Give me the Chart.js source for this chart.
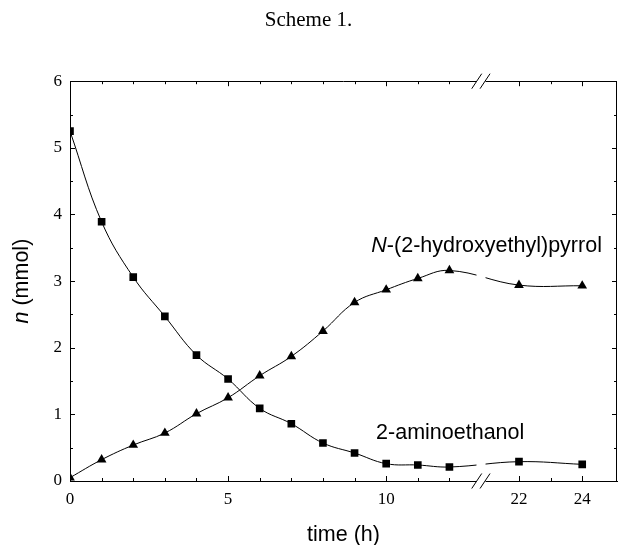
<!DOCTYPE html>
<html>
<head>
<meta charset="utf-8">
<title>Scheme 1.</title>
<script src="https://cdn.jsdelivr.net/npm/chart.js@4/dist/chart.umd.min.js"></script>
<style>
  html, body { margin: 0; padding: 0; background: #fff; }
  #wrap { width: 618px; height: 545px; }
</style>
</head>
<body>
<div id="wrap"><canvas id="chart" width="618" height="545"></canvas></div>
<script>
// reaction time (h) and amounts (mmol)
const times = [0, 1, 2, 3, 4, 5, 6, 7, 8, 9, 10, 11, 12, 22, 24];
const aminoethanol = [5.25, 3.89, 3.06, 2.47, 1.89, 1.53, 1.09, 0.86, 0.57, 0.42, 0.26, 0.24, 0.21, 0.29, 0.25];
const pyrrol = [0.05, 0.32, 0.54, 0.72, 1.01, 1.25, 1.58, 1.87, 2.25, 2.68, 2.87, 3.04, 3.16, 2.94, 2.93];

const xTickLabels = [0, 5, 10, 22, 24];
const xMinorTicks = [1, 2, 3, 4, 6, 7, 8, 9, 11, 12, 23];
const yTickLabels = [0, 1, 2, 3, 4, 5, 6];
const yMinorTicks = [0.5, 1.5, 2.5, 3.5, 4.5, 5.5];

// the time axis is broken between these two values
const BREAK_FROM = 13;
const BREAK_TO = 20.8;
function axisX(t) {
  return t > BREAK_FROM ? t - (BREAK_TO - BREAK_FROM) : t;
}

const SANS = "'Liberation Sans', Arial, sans-serif";
const SERIF = "'Liberation Serif', 'Times New Roman', serif";

const toPoints = (values) => times.map((t, i) => ({ x: axisX(t), y: values[i] }));

// inward ticks, mirrored frame, axis break and the text labels
const decorations = {
  id: "decorations",
  afterDraw(chart) {
    const ctx = chart.ctx;
    const area = chart.chartArea;
    const xs = chart.scales.x;
    const ys = chart.scales.y;
    ctx.save();
    ctx.strokeStyle = "#000";
    ctx.lineWidth = 1;

    ctx.beginPath();
    ctx.moveTo(area.left, Math.round(area.top) + 0.5);
    ctx.lineTo(area.right, Math.round(area.top) + 0.5);
    ctx.moveTo(Math.round(area.right) - 0.5, area.top);
    ctx.lineTo(Math.round(area.right) - 0.5, area.bottom);

    const xTick = (t, len) => {
      const px = Math.round(xs.getPixelForValue(axisX(t))) + 0.5;
      ctx.moveTo(px, area.bottom);
      ctx.lineTo(px, area.bottom - len);
      ctx.moveTo(px, area.top);
      ctx.lineTo(px, area.top + len);
    };
    const yTick = (v, len) => {
      const py = Math.round(ys.getPixelForValue(v)) + 0.5;
      ctx.moveTo(area.left, py);
      ctx.lineTo(area.left + len, py);
      ctx.moveTo(area.right, py);
      ctx.lineTo(area.right - len, py);
    };
    xTickLabels.forEach((t) => xTick(t, 5));
    xMinorTicks.forEach((t) => xTick(t, 3));
    yTickLabels.forEach((v) => yTick(v, 5));
    yMinorTicks.forEach((v) => yTick(v, 3));
    ctx.stroke();

    // axis break
    const bx = xs.getPixelForValue(BREAK_FROM);
    ctx.fillStyle = "#fff";
    ctx.fillRect(bx - 4.5, area.top - 2, 9, area.bottom - area.top + 4);
    ctx.beginPath();
    [area.top, area.bottom].forEach((y) => {
      [-4.3, 4].forEach((dx) => {
        ctx.moveTo(bx + dx - 5, y + 7.5);
        ctx.lineTo(bx + dx + 5, y - 7.5);
      });
    });
    ctx.stroke();

    // text labels
    ctx.fillStyle = "#000";
    ctx.textBaseline = "alphabetic";
    ctx.textAlign = "left";
    const italic = "italic 21.5px " + SANS;
    const normal = "21.5px " + SANS;

    let lx = xs.getPixelForValue(9.53);
    let ly = ys.getPixelForValue(3.43);
    ctx.font = italic;
    ctx.fillText("N", lx, ly);
    lx += ctx.measureText("N").width;
    ctx.font = normal;
    ctx.fillText("-(2-hydroxyethyl)pyrrol", lx, ly);

    ctx.fillText("2-aminoethanol", xs.getPixelForValue(9.68), ys.getPixelForValue(0.63));

    // y axis title
    ctx.translate(22, (area.top + area.bottom) / 2);
    ctx.rotate(-Math.PI / 2);
    ctx.textBaseline = "middle";
    ctx.font = italic;
    const w1 = ctx.measureText("n").width;
    ctx.font = normal;
    const w2 = ctx.measureText(" (mmol)").width;
    let tx = -(w1 + w2) / 2;
    ctx.font = italic;
    ctx.fillText("n", tx, 0);
    ctx.font = normal;
    ctx.fillText(" (mmol)", tx + w1, 0);
    ctx.restore();
  },
};

const lineStyle = {
  borderColor: "#000",
  borderWidth: 1,
  backgroundColor: "#000",
  pointBackgroundColor: "#000",
  pointBorderWidth: 0,
  tension: 0.4,
  clip: 0,
  fill: false,
};

const chart = new Chart(document.querySelector("#chart"), {
  type: "line",
  data: {
    datasets: [
      {
        label: "2-aminoethanol",
        data: toPoints(aminoethanol),
        pointStyle: "rect",
        pointRadius: 5.4,
        ...lineStyle,
      },
      {
        label: "N-(2-hydroxyethyl)pyrrol",
        data: toPoints(pyrrol),
        pointStyle: "triangle",
        pointRadius: 5.6,
        ...lineStyle,
      },
    ],
  },
  options: {
    responsive: false,
    animation: false,
    devicePixelRatio: 1,
    layout: {
      autoPadding: false,
      padding: { left: 0, right: 1, top: 0, bottom: 0 },
    },
    plugins: {
      legend: { display: false },
      tooltip: { enabled: false },
      title: {
        display: true,
        text: "Scheme 1.",
        color: "#000",
        font: { family: SERIF, size: 21, weight: "normal" },
        padding: { top: 8, bottom: 48 },
      },
    },
    scales: {
      x: {
        type: "linear",
        min: 0,
        max: 17.3,
        grid: { display: false, drawTicks: false },
        border: { display: true, color: "#000", width: 1 },
        afterBuildTicks: (scale) => {
          scale.ticks = xTickLabels.map((t) => ({ value: axisX(t) }));
        },
        afterFit: (scale) => {
          scale.height = 64;
          scale.paddingLeft = 0;
          scale.paddingRight = 0;
        },
        ticks: {
          autoSkip: false,
          maxRotation: 0,
          padding: 8,
          color: "#000",
          font: { family: SERIF, size: 17 },
          callback: (value, index) => String(xTickLabels[index]),
        },
        title: {
          display: true,
          text: "time (h)",
          color: "#000",
          font: { family: SANS, size: 21.5 },
          padding: { top: 0, bottom: -3 },
        },
      },
      y: {
        type: "linear",
        min: 0,
        max: 6,
        grid: { display: false, drawTicks: false },
        border: { display: true, color: "#000", width: 1 },
        afterBuildTicks: (scale) => {
          scale.ticks = yTickLabels.map((v) => ({ value: v }));
        },
        afterFit: (scale) => {
          scale.width = 70;
        },
        ticks: {
          padding: 8,
          color: "#000",
          font: { family: SERIF, size: 17 },
          callback: (value, index) => String(yTickLabels[index]),
        },
      },
    },
  },
  plugins: [decorations],
});
</script>
</body>
</html>
